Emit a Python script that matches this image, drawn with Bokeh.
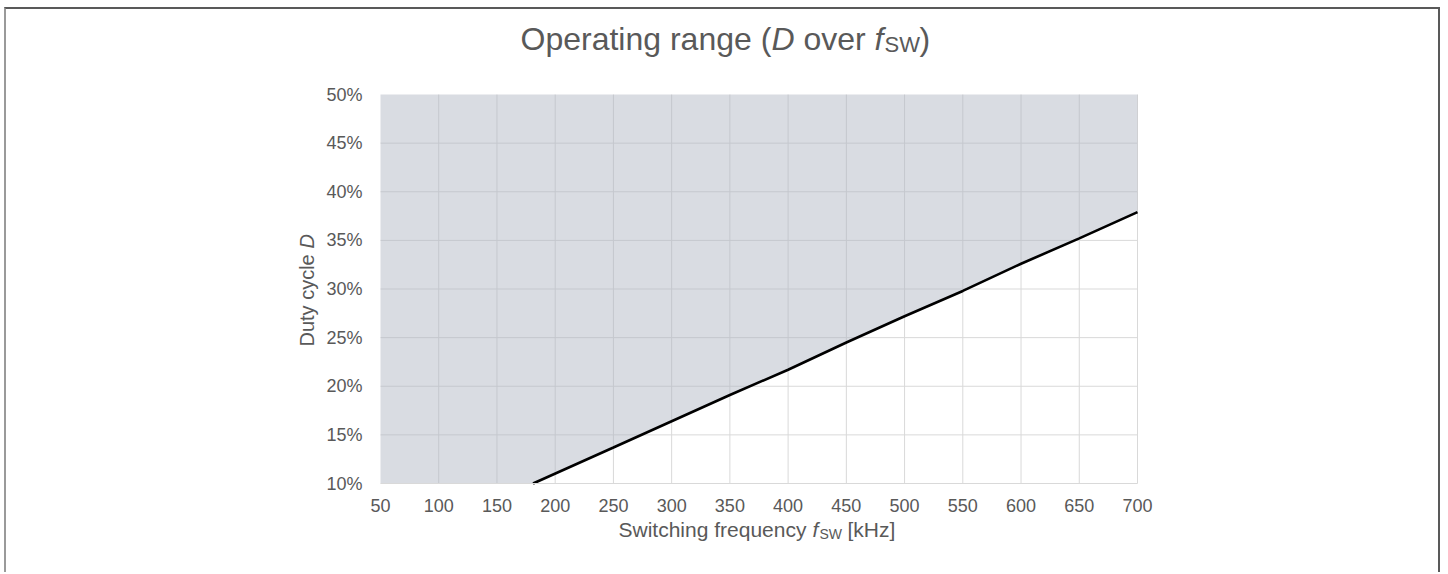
import math
from bokeh.plotting import figure
from bokeh.models import Range1d, FixedTicker, NumeralTickFormatter, Label
from bokeh.embed import file_html
from bokeh.resources import INLINE

# ---- data ----
f_khz = [181, 250, 300, 350, 400, 450, 500, 550, 600, 650, 700]
duty = [0.100, 0.137, 0.164, 0.191, 0.217, 0.245, 0.272, 0.298, 0.326, 0.352, 0.379]
x_ticks = [50, 100, 150, 200, 250, 300, 350, 400, 450, 500, 550, 600, 650, 700]
y_ticks = [0.10, 0.15, 0.20, 0.25, 0.30, 0.35, 0.40, 0.45, 0.50]
x_min, x_max = 50, 700
y_min, y_max = 0.10, 0.50

FONT = "Liberation Sans"
TXT = "#595959"
GRID = "#D9D9D9"

# ---- layout (pixels within the canvas) ----
W, H = 1436, 565
PL, PR = 374, 1131      # plot-area left / right
PT, PB = 85, 474        # plot-area top / bottom (from canvas top)
sx = (PR - PL) / (x_max - x_min)
sy = (PB - PT) / (y_max - y_min)
xr = Range1d(x_min - PL / sx, x_max + (W - PR) / sx)
yr = Range1d(y_min - (H - PB) / sy, y_max + PT / sy)

p = figure(
    width=W, height=H, min_border=0,
    x_range=xr, y_range=yr,
    output_backend="svg", toolbar_location=None,
)
p.styles = {"margin-left": "4px", "margin-top": "7px",
            "border-top": "2px solid #595959", "border-left": "2px solid #9a9a9a",
            "border-right": "2px solid #595959"}
p.outline_line_color = None
p.background_fill_color = "white"
p.border_fill_color = "white"
p.xgrid.visible = False
p.ygrid.visible = False

# axes, pinned to the plot-area edges
p.xaxis.fixed_location = y_min
p.xaxis.bounds = (x_min, x_max)
p.yaxis.fixed_location = x_min
p.yaxis.bounds = (y_min, y_max)
p.xaxis.ticker = FixedTicker(ticks=x_ticks)
p.yaxis.ticker = FixedTicker(ticks=y_ticks)
p.yaxis.formatter = NumeralTickFormatter(format="0%")
for ax in (p.xaxis, p.yaxis):
    ax.major_tick_line_color = None
    ax.minor_tick_line_color = None
    ax.major_label_text_font = FONT
    ax.major_label_text_font_size = "18px"
    ax.major_label_text_color = TXT
p.xaxis.axis_line_color = GRID
p.yaxis.axis_line_color = None
p.xaxis.major_label_standoff = 9
p.yaxis.major_label_standoff = 12

# grid lines inside the plot area
gx = x_ticks[1:]
gy = y_ticks[1:-1]
p.segment(x0=gx, y0=[y_min] * len(gx), x1=gx, y1=[y_max] * len(gx),
          line_color=GRID, line_width=1, level="underlay")
p.segment(x0=[x_min] * len(gy), y0=gy, x1=[x_max] * len(gy), y1=gy,
          line_color=GRID, line_width=1, level="underlay")

# shaded region (above the limit line)
fill_x = [x_min] + f_khz
fill_lo = [y_min] + duty
fill_hi = [y_max] * len(fill_x)
p.varea(x=fill_x, y1=fill_lo, y2=fill_hi, fill_color="#AFB5C2", fill_alpha=0.47)

# limit line
p.line(f_khz, duty, line_color="black", line_width=2.6)

def lab(text, x, y, size, italic=False, angle=0.0):
    p.add_layout(Label(
        x=x, y=y, x_units="screen", y_units="screen", text=text,
        text_font=FONT, text_font_size=size, text_color=TXT,
        text_font_style="italic" if italic else "normal",
        text_baseline="alphabetic", text_align="left", angle=angle,
    ))

# title: Operating range (D over f_SW)
ty = 536
tx = 514
lab("Operating range (", tx, ty, "32px")
lab("D", tx + 251, ty, "32px", italic=True)
lab("over", tx + 283, ty, "32px")
lab("f", tx + 354, ty, "32px", italic=True)
lab("SW", tx + 364, ty - 6, "22px")
lab(")", tx + 399, ty, "32px")

# x-axis label: Switching frequency f_SW [kHz]
xy = 45
xx = 612
lab("Switching frequency", xx, xy, "21px")
lab("f", xx + 194, xy, "21px", italic=True)
lab("SW", xx + 201, xy - 4, "14px")
lab("[kHz]", xx + 229, xy, "21px")

# y-axis label: Duty cycle D (rotated)
yx = 300
yy = 228
lab("Duty cycle", yx, yy, "20px", angle=math.pi / 2)
lab("D", yx, yy + 98, "20px", italic=True, angle=math.pi / 2)

open("out.html", "w").write(file_html(p, INLINE))
